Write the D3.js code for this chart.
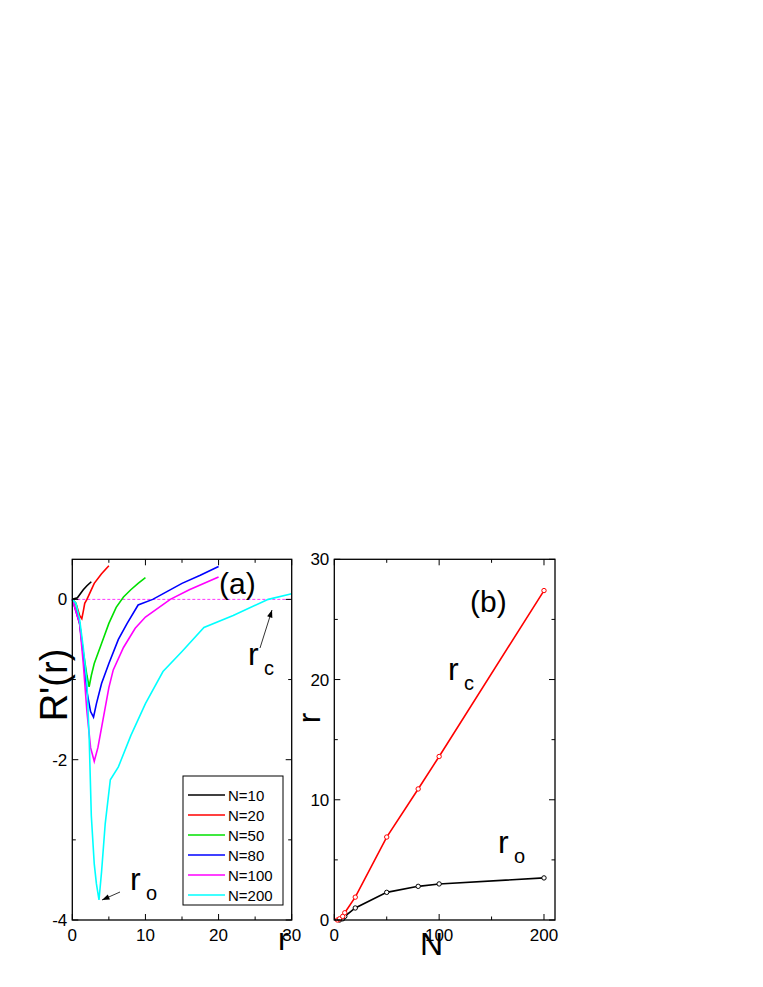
<!DOCTYPE html>
<html><head><meta charset="utf-8">
<script src="https://cdn.jsdelivr.net/npm/d3@7"></script>
<style>body{margin:0;background:#fff}</style></head>
<body><svg id="c" width="763" height="987"></svg>
<script>
const seriesA = [
 {name:"N=10", color:"#000000", pts:[[0,0],[0.7,0.02],[1.5,0.12],[2,0.17],[2.6,0.22]]},
 {name:"N=20", color:"#ff0000", pts:[[0,0],[0.5,-0.05],[1,-0.2],[1.3,-0.24],[1.5,-0.15],[1.7,-0.05],[2,0],[2.5,0.1],[3,0.2],[4,0.32],[5,0.42]]},
 {name:"N=50", color:"#00e000", pts:[[0,0],[0.5,-0.05],[1,-0.3],[1.5,-0.65],[2,-0.95],[2.3,-1.09],[2.6,-0.95],[3,-0.8],[4,-0.55],[5,-0.3],[6,-0.1],[7,0.03],[8,0.12],[9,0.2],[10,0.27]]},
 {name:"N=80", color:"#0000ff", pts:[[0,0],[1,-0.3],[1.5,-0.7],[2,-1.15],[2.5,-1.4],[2.9,-1.47],[3.3,-1.3],[4,-1.05],[5,-0.8],[6.3,-0.5],[7.5,-0.3],[9,-0.07],[11,0],[13,0.1],[15,0.2],[17.5,0.3],[20,0.41]]},
 {name:"N=100", color:"#ff00ff", pts:[[0,0],[1,-0.3],[1.5,-0.8],[2,-1.4],[2.5,-1.85],[3,-2.02],[3.5,-1.85],[4.2,-1.5],[5,-1.1],[5.6,-0.88],[7,-0.6],[8.6,-0.36],[10,-0.22],[13.4,0],[16,0.12],[20,0.28]]},
 {name:"N=200", color:"#00ffff", pts:[[0,0],[0.5,-0.05],[1,-0.25],[1.5,-0.6],[2,-1.05],[2.3,-1.7],[2.6,-2.7],[3,-3.3],[3.3,-3.55],[3.65,-3.75],[4,-3.4],[4.5,-2.8],[5.2,-2.25],[6.3,-2.09],[8,-1.7],[10,-1.3],[12.4,-0.9],[15,-0.65],[18,-0.35],[22,-0.2],[26.8,0],[30,0.07]]}
];
const rcN = [3,5,8,10,20,50,80,100,200];
const rcV = [0,0.1,0.3,0.6,1.9,6.9,10.9,13.6,27.4];
const roN = [5,8,10,20,50,80,100,200];
const roV = [0,0.1,0.3,1.0,2.3,2.8,3.0,3.5];
const ticksAx=[0,10,20,30], ticksAy=[0,-2,-4], ticksBx=[0,100,200], ticksBy=[0,10,20,30];

const svg=d3.select("#c");
const font="Arial, 'Liberation Sans', sans-serif";
const yTop=559.3, yBot=920;
function frame(x,y,xt,xm,yt,ym){
  const g=svg.append("g");
  const [x0,x1]=x.range(), [y0,y1]=y.range();
  g.append("rect").attr("x",x0).attr("y",y1).attr("width",x1-x0).attr("height",y0-y1).attr("fill","none").attr("stroke","#000").attr("stroke-width",1.3);
  const tk=(v,len,isX)=>{
    if(isX){const p=x(v);g.append("line").attr("x1",p).attr("x2",p).attr("y1",y0).attr("y2",y0-len).attr("stroke","#000");
      g.append("line").attr("x1",p).attr("x2",p).attr("y1",y1).attr("y2",y1+len).attr("stroke","#000");}
    else{const p=y(v);g.append("line").attr("y1",p).attr("y2",p).attr("x1",x0).attr("x2",x0+len).attr("stroke","#000");
      g.append("line").attr("y1",p).attr("y2",p).attr("x1",x1).attr("x2",x1-len).attr("stroke","#000");}
  };
  xt.forEach(v=>{tk(v,6,true);g.append("text").attr("x",x(v)).attr("y",y0+21).attr("text-anchor","middle").attr("font-size",17).attr("font-family",font).text(v);});
  xm.forEach(v=>tk(v,3.5,true));
  yt.forEach(v=>{tk(v,6,false);g.append("text").attr("x",x0-5).attr("y",y(v)+6).attr("text-anchor","end").attr("font-size",17).attr("font-family",font).text(v);});
  ym.forEach(v=>tk(v,3.5,false));
}
// panel a
const xa=d3.scaleLinear().domain([0,30]).range([72.3,291.7]);
const ya=d3.scaleLinear().domain([-4,0.5]).range([yBot,yTop]);
svg.append("line").attr("x1",xa(0)).attr("x2",xa(30)).attr("y1",ya(0)).attr("y2",ya(0)).attr("stroke","#ff00ff").attr("stroke-dasharray","3,2").attr("stroke-width",0.8);
const la=d3.line().x(d=>xa(d[0])).y(d=>ya(d[1]));
seriesA.forEach(s=>svg.append("path").attr("d",la(s.pts)).attr("fill","none").attr("stroke",s.color).attr("stroke-width",1.6));
frame(xa,ya,ticksAx,[5,15,25],ticksAy,[-1,-3]);
// legend
const lg=svg.append("g");
lg.append("rect").attr("x",183).attr("y",776).attr("width",100).attr("height",129).attr("fill","#fff").attr("stroke","#000");
seriesA.forEach((s,i)=>{const yy=795+i*20;
  lg.append("line").attr("x1",188).attr("x2",225).attr("y1",yy).attr("y2",yy).attr("stroke",s.color).attr("stroke-width",1.6);
  lg.append("text").attr("x",228).attr("y",yy+5.5).attr("font-size",15).attr("font-family",font).text(s.name);});
const txt=(x,y,s,sz,rot)=>{const t=svg.append("text").attr("x",x).attr("y",y).attr("font-size",sz).attr("font-family",font).text(s);if(rot)t.attr("transform",`rotate(-90,${x},${y})`);return t;};
txt(67,685,"R'(r)",38,true).attr("text-anchor","middle");
txt(219,594,"(a)",30);
txt(248,665,"r",32); txt(264,675,"c",20);
txt(130,890,"r",32); txt(146,900,"o",20);
txt(278,950,"r",32);
const arrow=(x1,y1,x2,y2)=>{svg.append("line").attr("x1",x1).attr("y1",y1).attr("x2",x2).attr("y2",y2).attr("stroke","#000").attr("stroke-width",0.8);
  const a=Math.atan2(y2-y1,x2-x1),L=8,w=0.35;
  svg.append("path").attr("d",`M${x2},${y2}L${x2-L*Math.cos(a-w)},${y2-L*Math.sin(a-w)}L${x2-L*Math.cos(a+w)},${y2-L*Math.sin(a+w)}Z`).attr("fill","#000");};
arrow(260,648,272,610);
arrow(120,892,102,900);
// panel b
const xb=d3.scaleLinear().domain([0,210.5]).range([334.3,555]);
const yb=d3.scaleLinear().domain([0,30]).range([yBot,yTop]);
const lb=d3.line().x(d=>xb(d[0])).y(d=>yb(d[1]));
[[roN,roV,"#000"],[rcN,rcV,"#ff0000"]].forEach(([n,v,c])=>{
  const pts=n.map((d,i)=>[d,v[i]]);
  svg.append("path").attr("d",lb(pts)).attr("fill","none").attr("stroke",c).attr("stroke-width",1.6);
  svg.selectAll(null).data(pts).enter().append("circle").attr("cx",d=>xb(d[0])).attr("cy",d=>yb(d[1])).attr("r",2.2).attr("fill","#fff").attr("stroke",c).attr("stroke-width",1);
});
frame(xb,yb,ticksBx,[50,150],ticksBy,[5,15,25]);
txt(470,612,"(b)",30);
txt(448,680,"r",32); txt(464,690,"c",20);
txt(498,853,"r",32); txt(514,863,"o",20);
txt(320,718,"r",32,true).attr("text-anchor","middle");
txt(420,955,"N",32);
</script></body></html>
